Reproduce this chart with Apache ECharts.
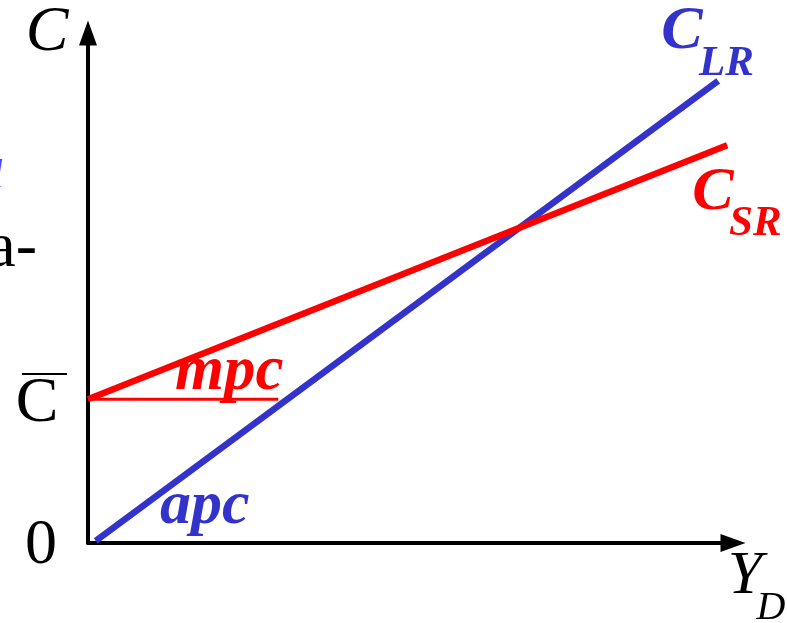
<!DOCTYPE html>
<html>
<head>
<meta charset="utf-8">
<script src="https://cdn.jsdelivr.net/npm/echarts@6/dist/echarts.min.js"></script>
<style>html,body{margin:0;padding:0;background:#fff;}#c{width:787px;height:623px;}</style>
</head>
<body>
<div id="c"></div>
<script>
// Data (axis units 0..100 on both axes)
const xRange = [0, 100];
const yRange = [0, 100];
const cLR = [[1.2, 0.4], [97.7, 90.6]];    // long-run consumption (blue)
const cSR = [[0, 28.2], [99.1, 78.0]];     // short-run consumption (red)
const mpcBase = [[0, 28.2], [29.5, 28.2]]; // horizontal reference at C-bar

const BLUE = '#3333cc';
const RED = '#ff0000';
const SERIF = '"Liberation Serif", "Times New Roman", serif';

const chart = echarts.init(document.getElementById('c'), null, {renderer: 'canvas'});

function txt(text, x, y, size, color, opts) {
  return {
    type: 'text', x: x, y: y, z: 100,
    style: Object.assign({
      text: text, fill: color, fontFamily: SERIF, fontSize: size,
      align: 'center', verticalAlign: 'middle'
    }, opts || {})
  };
}

const option = {
  animation: false,
  backgroundColor: '#fff',
  grid: {left: 88, right: 54, top: 33, bottom: 80},
  xAxis: {
    type: 'value', min: xRange[0], max: xRange[1],
    axisLine: {show: true, lineStyle: {color: '#000', width: 4},
      symbol: ['none', 'triangle'], symbolSize: [18, 25]},
    axisTick: {show: false}, axisLabel: {show: false}, splitLine: {show: false}
  },
  yAxis: {
    type: 'value', min: yRange[0], max: yRange[1],
    axisLine: {show: true, lineStyle: {color: '#000', width: 4},
      symbol: ['none', 'triangle'], symbolSize: [18, 25]},
    axisTick: {show: false}, axisLabel: {show: false}, splitLine: {show: false}
  },
  series: [
    {type: 'line', data: mpcBase, symbol: 'none', clip: false,
      lineStyle: {color: RED, width: 3}, z: 3},
    {type: 'line', data: cLR, symbol: 'none', clip: false,
      lineStyle: {color: BLUE, width: 6.5}, z: 4},
    {type: 'line', data: cSR, symbol: 'none', clip: false,
      lineStyle: {color: RED, width: 6.5}, z: 5}
  ],
  graphic: [
    txt('C', 47, 33, 64, '#000', {fontStyle: 'italic'}),
    txt('C', 37, 404, 64, '#000'),
    {type: 'line', z: 100, shape: {x1: 22, y1: 374, x2: 67, y2: 374}, style: {stroke: '#000', lineWidth: 2}},
    txt('0', 41, 546, 64, '#000'),
    txt('a-', 37, 249, 64, '#000', {align: 'right'}),
    txt('l', 3, 176, 40, '#4a4aff', {align: 'right', fontStyle: 'italic'}),
    txt('C', 682, 32, 62, BLUE, {fontStyle: 'italic', fontWeight: 'bold'}),
    txt('LR', 699, 64, 43, BLUE, {fontStyle: 'italic', fontWeight: 'bold', align: 'left'}),
    txt('C', 713, 193, 62, RED, {fontStyle: 'italic', fontWeight: 'bold'}),
    txt('SR', 729, 224, 43, RED, {fontStyle: 'italic', fontWeight: 'bold', align: 'left'}),
    txt('mpc', 175, 373, 63, RED, {fontStyle: 'italic', fontWeight: 'bold', align: 'left'}),
    txt('apc', 160, 507, 62, BLUE, {fontStyle: 'italic', fontWeight: 'bold', align: 'left'}),
    txt('Y', 745, 577, 62, '#000', {fontStyle: 'italic'}),
    txt('D', 771, 608, 40, '#000', {fontStyle: 'italic'})
  ]
};
chart.setOption(option);
</script>
</body>
</html>
